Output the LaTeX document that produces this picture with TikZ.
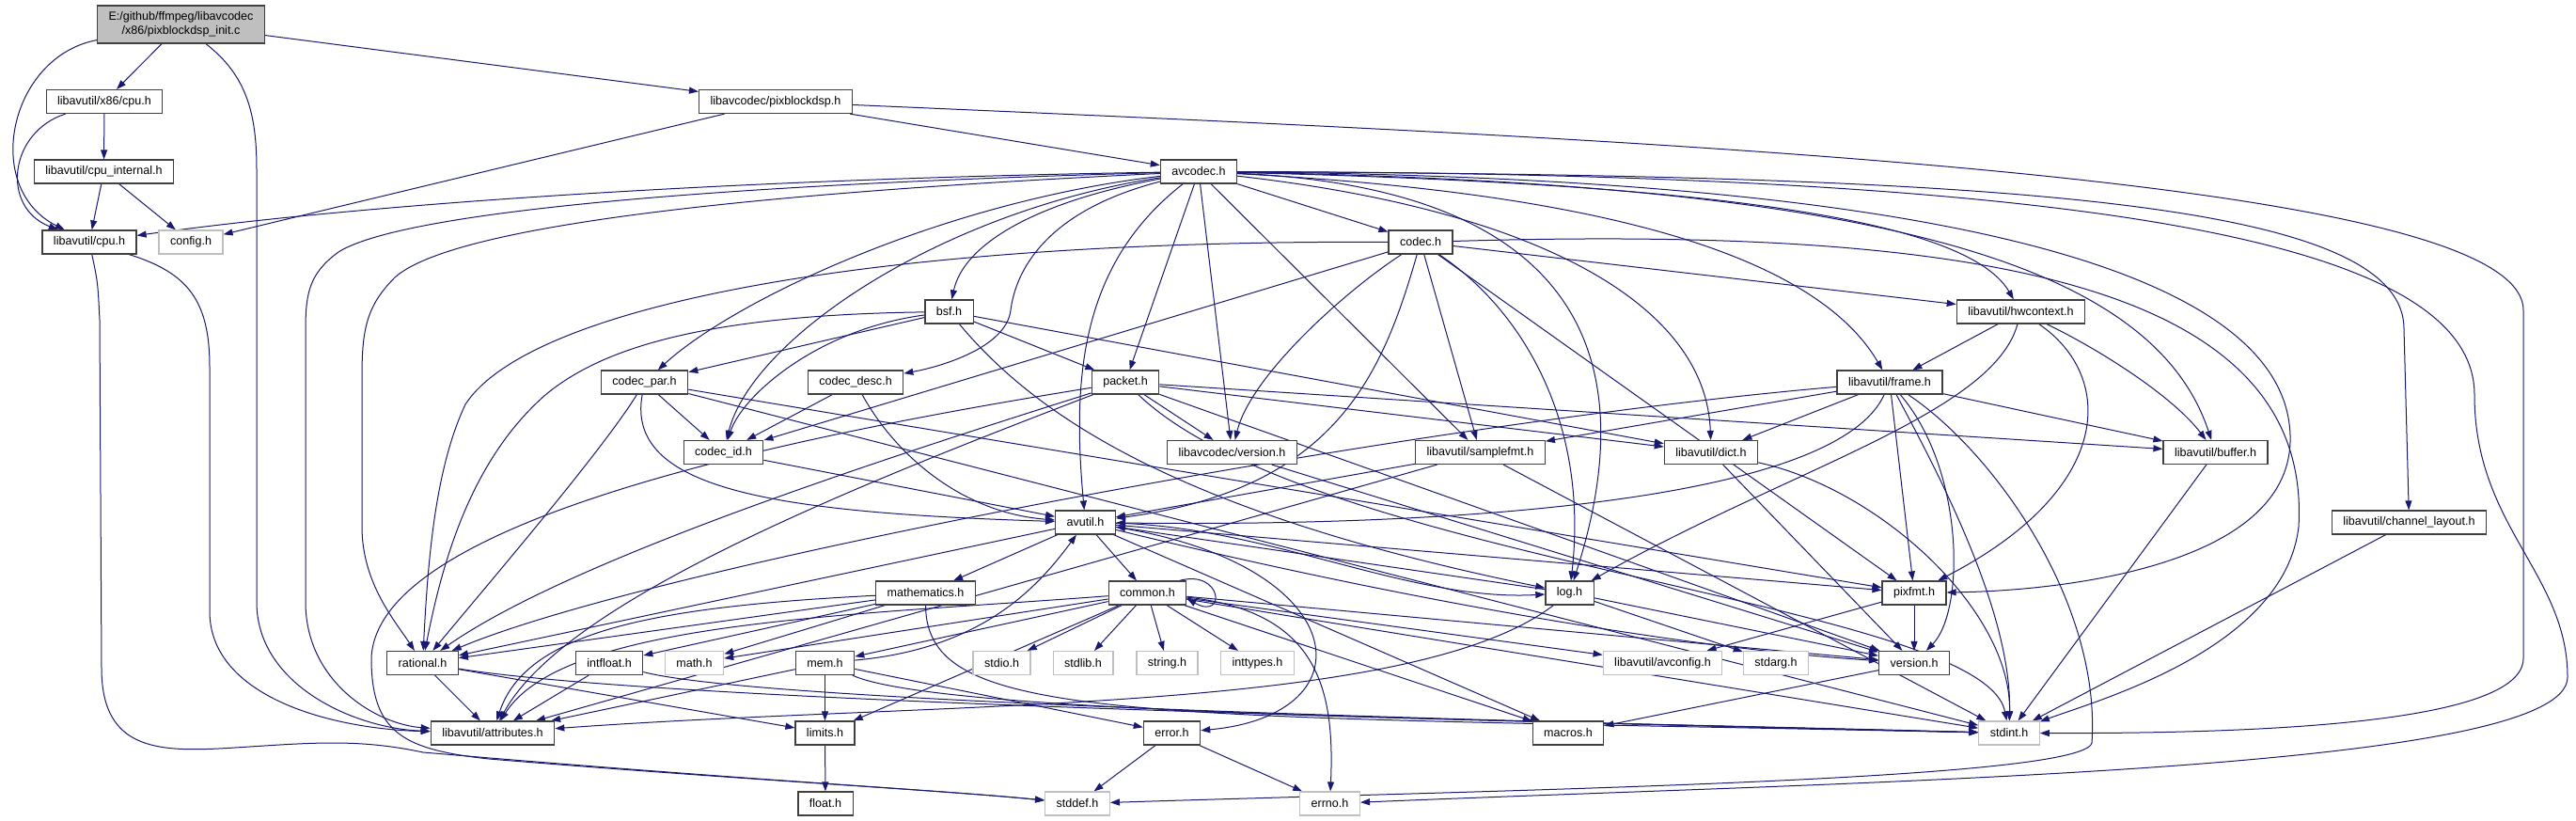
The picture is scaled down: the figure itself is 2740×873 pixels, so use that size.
\documentclass[tikz,border=0pt]{standalone}
\usepackage{fontspec}
\setmainfont{Liberation Sans}
\usepackage{tikz}
\usetikzlibrary{arrows.meta,backgrounds}
\definecolor{edgec}{HTML}{191970}
\definecolor{rootbg}{HTML}{BFBFBF}
\definecolor{sysc}{HTML}{BFBFBF}
\definecolor{boxc}{HTML}{404040}
\tikzset{
  hdr/.style={draw=boxc,line width=1.2bp,fill=white,inner xsep=12bp,inner ysep=0pt,
    minimum height=25bp,font=\fontsize{12.6}{15}\selectfont},
  sys/.style={hdr,draw=sysc},                 % system / external header
  root/.style={hdr,fill=rootbg,minimum height=40bp,align=center},
  dep/.style={draw=edgec,line width=1bp,-{Triangle[length=10bp,width=7bp]}},
}

\begin{document}
\begin{tikzpicture}[x=1bp,y=-1bp]
  \useasboundingbox (0,0) rectangle (2740,873);
  \begin{scope}[on background layer]
    \fill[white] (0,0) rectangle (2740,873);
  \end{scope}
  % rows, top to bottom
  \node[root](main) at (192.5,26) {E:/github/ffmpeg/libavcodec\\/x86/pixblockdsp\_init.c};
  \node[hdr](x86cpu) at (111,108) {libavutil/x86/cpu.h};
  \node[hdr](pixdsp) at (825,108) {libavcodec/pixblockdsp.h};
  \node[hdr](cpuint) at (110.5,182.5) {libavutil/cpu\_internal.h};
  \node[hdr](avcodec) at (1275,182.5) {avcodec.h};
  \node[hdr](cpu) at (95,257.5) {libavutil/cpu.h};
  \node[sys](config) at (203,257.5) {config.h};
  \node[hdr](codec) at (1511,257.5) {codec.h};
  \node[hdr](bsf) at (1009.5,331.5) {bsf.h};
  \node[hdr](hwctx) at (2149.5,331.5) {libavutil/hwcontext.h};
  \node[hdr](codecpar) at (685.5,406.5) {codec\_par.h};
  \node[hdr](codecdesc) at (910,406.5) {codec\_desc.h};
  \node[hdr](packet) at (1197,406.5) {packet.h};
  \node[hdr](frame) at (2010,406.5) {libavutil/frame.h};
  \node[hdr](codecid) at (769.5,481) {codec\_id.h};
  \node[hdr](lavcver) at (1310.5,481) {libavcodec/version.h};
  \node[hdr](samplefmt) at (1574.5,481) {libavutil/samplefmt.h};
  \node[hdr](dict) at (1820,481) {libavutil/dict.h};
  \node[hdr](buffer) at (2356.5,481) {libavutil/buffer.h};
  \node[hdr](avutil) at (1154.5,555.5) {avutil.h};
  \node[hdr](chlayout) at (2562.5,555.5) {libavutil/channel\_layout.h};
  \node[hdr](mathematics) at (984.5,630.5) {mathematics.h};
  \node[hdr](common) at (1220.5,630.5) {common.h};
  \node[hdr](log) at (1669.5,630.5) {log.h};
  \node[hdr](pixfmt) at (2036,630.5) {pixfmt.h};
  \node[hdr](rational) at (449.5,705) {rational.h};
  \node[hdr](intfloat) at (648,705) {intfloat.h};
  \node[sys](mathh) at (738.5,705) {math.h};
  \node[hdr](mem) at (877.5,705) {mem.h};
  \node[sys](stdio) at (1065.5,705) {stdio.h};
  \node[sys](stdlib) at (1152,705) {stdlib.h};
  \node[sys](string) at (1241.5,705) {string.h};
  \node[sys](inttypes) at (1337.5,705) {inttypes.h};
  \node[sys](avconfig) at (1768.5,705) {libavutil/avconfig.h};
  \node[sys](stdarg) at (1889,705) {stdarg.h};
  \node[hdr](version) at (2036,705) {version.h};
  \node[hdr](attributes) at (524,779.5) {libavutil/attributes.h};
  \node[hdr](limits) at (877.5,779.5) {limits.h};
  \node[hdr](error) at (1246.5,779.5) {error.h};
  \node[hdr](macros) at (1668,779.5) {macros.h};
  \node[sys](stdint) at (2137,779.5) {stdint.h};
  \node[hdr](float) at (878,854.5) {float.h};
  \node[sys](stddef) at (1146,854.5) {stddef.h};
  \node[sys](errno) at (1414.5,854.5) {errno.h};

  \begin{scope}[on background layer]
  % straight includes
  \foreach \a/\b in {main/x86cpu,main/pixdsp,x86cpu/cpuint,cpuint/cpu,cpuint/config,
      pixdsp/avcodec,pixdsp/config,avcodec/packet,avcodec/lavcver,avcodec/codec,avcodec/samplefmt,
      codec/codecid,codec/samplefmt,codec/pixfmt,codec/hwctx,bsf/codecpar,bsf/packet,bsf/dict,
      hwctx/frame,codecpar/codecid,codecpar/pixfmt,codecpar/stdint,codecdesc/codecid,
      packet/lavcver,packet/buffer,packet/dict,packet/version,lavcver/version,codecid/avutil,
      samplefmt/avutil,samplefmt/attributes,samplefmt/stdint,dict/version,buffer/stdint,
      frame/samplefmt,frame/dict,frame/buffer,frame/pixfmt,chlayout/stdint,
      avutil/mathematics,avutil/common,avutil/rational,avutil/macros,avutil/pixfmt,
      mathematics/intfloat,mathematics/mathh,mathematics/rational,
      common/stdio,common/stdlib,common/string,common/inttypes,common/mathh,common/mem,
      common/limits,common/macros,common/version,common/avconfig,common/stdint,
      mem/limits,mem/attributes,mem/error,log/stdarg,log/version,log/avutil,
      pixfmt/avconfig,pixfmt/version,version/macros,rational/attributes,rational/limits,
      intfloat/attributes,error/stddef,error/errno,limits/float}
    \draw[dep](\a)--(\b);
  % routed includes
  \draw[dep](main) .. controls (10,60) and (-20,200) .. (cpu);
  \draw[dep](x86cpu) .. controls (10,140) and (0,220) .. (cpu);
  \draw[dep](main) .. controls (262,80) and (273,120) .. (273,180) -- (273,640)
    .. controls (273,730) and (380,775) .. (attributes);
  \draw[dep](cpu) .. controls (200,290) and (223,320) .. (223,390) -- (223,650)
    .. controls (223,740) and (350,775) .. (attributes);
  \draw[dep](cpu) .. controls (104,300) .. (106,340) -- (108,710)
    .. controls (108,800) and (170,800) .. (250,795) .. controls (330,790) and (380,785) .. (450,800)
    .. controls (800,830) and (1000,840) .. (stddef);
  \draw[dep](pixdsp) .. controls (1800,150) and (2684,190) .. (2684,330) -- (2684,700)
    .. controls (2684,770) and (2400,780) .. (stdint);
  \draw[dep](avcodec) .. controls (800,190) and (400,215) .. (cpu);
  \draw[dep](avcodec) .. controls (700,198) and (420,230) .. (360,268) .. controls (330,290) and (325,310) .. (325,350)
    -- (325,640) .. controls (325,725) and (400,770) .. (attributes);
  \draw[dep](avcodec) .. controls (700,210) and (470,250) .. (420,295) .. controls (390,325) and (385,350) .. (385,400)
    -- (385,560) .. controls (385,620) and (420,660) .. (rational);
  \draw[dep](avcodec) .. controls (1000,215) and (780,320) .. (codecpar);
  \draw[dep](avcodec) .. controls (1000,225) and (800,360) .. (codecid);
  \draw[dep](avcodec) .. controls (1100,215) and (1025,260) .. (bsf);
  \draw[dep](avcodec) .. controls (1110,225) and (1080,290) .. (1075,330) .. controls (1070,370) and (1000,390) .. (codecdesc);
  \draw[dep](avcodec) .. controls (1150,280) and (1140,400) .. (avutil);
  \draw[dep](avcodec) .. controls (1680,200) and (1750,380) .. (log);
  \draw[dep](avcodec) .. controls (1650,225) and (1815,330) .. (dict);
  \draw[dep](avcodec) .. controls (1700,205) and (1930,270) .. (frame);
  \draw[dep](avcodec) .. controls (1800,195) and (2090,230) .. (hwctx);
  \draw[dep](avcodec) .. controls (2000,195) and (2290,280) .. (buffer);
  \draw[dep](avcodec) .. controls (2150,190) and (2440,310) .. (2436,470) .. controls (2432,600) and (2200,628) .. (pixfmt);
  \draw[dep](avcodec) .. controls (2150,186) and (2557,215) .. (2557,350) -- (chlayout);
  \draw[dep](avcodec) .. controls (2250,184) and (2632,260) .. (2632,420) .. controls (2632,560) and (2731,610) .. (2731,720)
    .. controls (2731,820) and (2000,830) .. (errno);
  \draw[dep](codec) .. controls (900,255) and (560,330) .. (495,430) .. controls (462,500) and (455,600) .. (rational);
  \draw[dep](codec) .. controls (1430,310) and (1330,400) .. (lavcver);
  \draw[dep](codec) .. controls (1470,400) and (1420,520) .. (avutil);
  \draw[dep](codec) .. controls (1620,330) and (1690,450) .. (log);
  \draw[dep](codec) .. controls (2100,240) and (2460,300) .. (2445,560) .. controls (2430,690) and (2230,745) .. (stdint);
  \draw[dep](bsf) .. controls (750,335) and (640,370) .. (580,420) .. controls (500,490) and (470,600) .. (rational);
  \draw[dep](bsf) .. controls (870,350) and (790,420) .. (codecid);
  \draw[dep](bsf) .. controls (1100,440) and (1250,545) .. (log);
  \draw[dep](hwctx) .. controls (2120,440) and (1900,500) .. (log);
  \draw[dep](hwctx) .. controls (2230,370) and (2310,420) .. (buffer);
  \draw[dep](hwctx) .. controls (2250,400) and (2250,520) .. (pixfmt);
  \draw[dep](codecpar) .. controls (640,480) and (520,620) .. (rational);
  \draw[dep](codecpar) .. controls (665,520) and (820,545) .. (avutil);
  \draw[dep](codecdesc) .. controls (950,480) and (1020,545) .. (avutil);
  \draw[dep](packet) .. controls (900,500) and (600,600) .. (rational);
  \draw[dep](packet) .. controls (900,520) and (600,640) .. (attributes);
  \draw[dep](packet) .. controls (800,470) and (400,560) .. (395,700) .. controls (395,780) and (430,797) .. (520,807)
    .. controls (800,830) and (1000,840) .. (stddef);
  \draw[dep](packet) .. controls (1400,600) and (2110,640) .. (stdint);
  \draw[dep](dict) .. controls (2000,520) and (2140,650) .. (stdint);
  \draw[dep](frame) .. controls (1500,450) and (700,600) .. (rational);
  \draw[dep](frame) .. controls (1950,540) and (1500,560) .. (avutil);
  \draw[dep](frame) .. controls (2060,500) and (2140,650) .. (stdint);
  \draw[dep](frame) .. controls (2090,500) and (2090,650) .. (version);
  \draw[dep](frame) .. controls (2120,480) and (2235,640) .. (2225,790) .. controls (2215,830) and (1600,840) .. (stddef);
  \draw[dep](avutil) .. controls (1350,560) and (1500,640) .. (log);
  \draw[dep](avutil) .. controls (1440,600) and (1460,760) .. (error);
  \draw[dep](avutil) .. controls (1500,640) and (1800,690) .. (version);
  \draw[dep](mathematics) .. controls (700,645) and (560,670) .. (attributes);
  \draw[dep](mathematics) .. controls (985,770) and (1200,760) .. (stdint);
  \draw[dep](common) .. controls (1400,650) and (1420,730) .. (errno);
  \draw[dep](common) .. controls (900,655) and (600,660) .. (attributes);
  \draw[dep]([xshift=-8bp]common.north east) .. controls (1300,605) and (1305,660) .. ([yshift=-6bp]common.east);
  \draw[dep](mem) .. controls (1040,690) and (1100,630) .. (avutil);
  \draw[dep](mem) .. controls (1000,760) and (1600,765) .. (stdint);
  \draw[dep](intfloat) .. controls (800,745) and (1500,765) .. (stdint);
  \draw[dep](rational) .. controls (700,745) and (1500,765) .. (stdint);
  \draw[dep](log) .. controls (1500,760) and (1000,745) .. (attributes);
  \end{scope}
\end{tikzpicture}
\end{document}
